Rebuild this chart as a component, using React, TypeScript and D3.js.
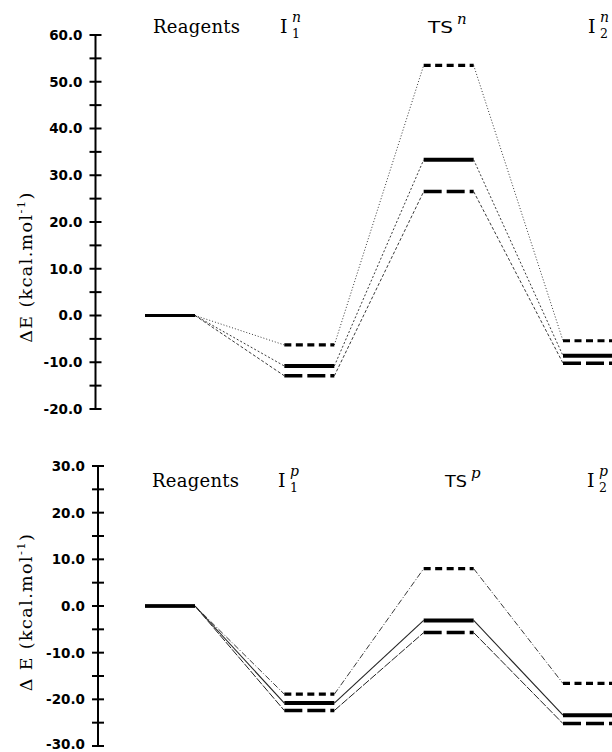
import React from "react";
import * as d3 from "d3";

// ---------- data ----------
const categories = ["Reagents", "I1", "TS", "I2"];

// upper panel (n)
const nSolid = [0, -10.8, 33.3, -8.6];
const nDashed = [0, -12.9, 26.5, -10.2];
const nDotted = [0, -6.3, 53.5, -5.4];
const nTicks = [-20, -10, 0, 10, 20, 30, 40, 50, 60];
const nTickLabels = ["-20.0", "-10.0", "0.0", "10.0", "20.0", "30.0", "40.0", "50.0", "60.0"];
const nMinorTicks = [-15, -5, 5, 15, 25, 35, 45, 55];

// lower panel (p)
const pSolid = [0, -20.8, -3.1, -23.4];
const pDashed = [0, -22.4, -5.7, -25.2];
const pDotted = [0, -18.9, 8.0, -16.6];
const pTicks = [-30, -20, -10, 0, 10, 20, 30];
const pTickLabels = ["-30.0", "-20.0", "-10.0", "0.0", "10.0", "20.0", "30.0"];
const pMinorTicks = [-25, -15, -5, 5, 15, 25];

// ---------- layout ----------
const W = 612;
const H = 752;
const HALF = 25;

function Panel(props: {
  yDomain: [number, number];
  yRange: [number, number];
  axisX: number;
  ticks: number[];
  tickLabels: string[];
  minor: number[];
  series: { values: number[]; kind: "solid" | "dashed" | "dotted" }[];
  connStyles: Record<string, string>;
  connWidth: Record<string, number>;
  sup: string;
  labelBaseline: number;
  labelX: number[];
  tsWidth: number;
  yLabelCenter: number;
  yLabelText: string;
}) {
  const x = d3.scalePoint<string>().domain(categories).range([170, 588]);
  const y = d3.scaleLinear().domain(props.yDomain).range(props.yRange);
  const levelStyle: Record<string, { dash: string; w: number }> = {
    solid: { dash: "none", w: 4 },
    dashed: { dash: "18,5", w: 3.5 },
    dotted: { dash: "7,4.5", w: 3.2 },
  };
  const lb = props.labelBaseline;
  return (
    <g>
      {/* axis */}
      <line
        x1={props.axisX}
        x2={props.axisX}
        y1={y(props.yDomain[1])}
        y2={y(props.yDomain[0])}
        stroke="#000"
        strokeWidth={2}
      />
      {props.ticks.map((t, i) => (
        <g key={"t" + t}>
          <line x1={props.axisX - 6} x2={props.axisX + 6} y1={y(t)} y2={y(t)} stroke="#000" strokeWidth={2} />
          <text
            x={props.axisX - 13}
            y={Math.min(y(t), H - 8)}
            dy="0.36em"
            textAnchor="end"
            fontFamily="DejaVu Sans"
            fontWeight="bold"
            fontSize={13.5}
          >
            {props.tickLabels[i]}
          </text>
        </g>
      ))}
      {props.minor.map((t) => (
        <line key={"m" + t} x1={props.axisX - 6} x2={props.axisX + 6} y1={y(t)} y2={y(t)} stroke="#000" strokeWidth={2} />
      ))}
      {/* y label */}
      <text
        transform={`translate(32,${props.yLabelCenter}) rotate(-90)`}
        textAnchor="middle"
        fontFamily="DejaVu Serif"
        fontSize={17.5}
        letterSpacing={1.4}
      >
        {props.yLabelText}
        <tspan fontSize={11.5} dy={-7}>-1</tspan>
        <tspan dy={7}>)</tspan>
      </text>
      {/* connectors */}
      {props.series.map((s) =>
        s.values.slice(1).map((v, i) => {
          const x1 = (x(categories[i]) as number) + HALF;
          const x2 = (x(categories[i + 1]) as number) - HALF;
          return (
            <line
              key={s.kind + "c" + i}
              x1={x1}
              x2={x2}
              y1={y(s.values[i])}
              y2={y(v)}
              stroke="#222"
              strokeWidth={props.connWidth[s.kind]}
              strokeDasharray={props.connStyles[s.kind]}
            />
          );
        })
      )}
      {/* levels */}
      {props.series.map((s) =>
        s.values.map((v, i) => {
          const cx = x(categories[i]) as number;
          const st = i === 0 ? levelStyle.solid : levelStyle[s.kind];
          return (
            <line
              key={s.kind + "l" + i}
              x1={cx - HALF}
              x2={cx + HALF}
              y1={y(v)}
              y2={y(v)}
              stroke="#000"
              strokeWidth={i === 0 ? 3.2 : st.w}
              strokeDasharray={st.dash}
            />
          );
        })
      )}
      {/* category labels */}
      <text x={props.labelX[0]} y={lb} fontFamily="DejaVu Serif" fontSize={18} textLength={87} lengthAdjust="spacing">
        Reagents
      </text>
      {[1, 3].map((i) => (
        <g key={"lab" + i}>
          <text x={props.labelX[i]} y={lb} fontFamily="DejaVu Serif" fontSize={19}>
            I
          </text>
          <text x={props.labelX[i] + 12} y={lb + 5} fontFamily="DejaVu Serif" fontSize={12.5}>
            {i === 1 ? "1" : "2"}
          </text>
          <text x={props.labelX[i] + 12} y={lb - 11} fontFamily="DejaVu Serif" fontStyle="italic" fontSize={14}>
            {props.sup}
          </text>
        </g>
      ))}
      <g>
        <text
          x={props.labelX[2]}
          y={lb}
          fontFamily="DejaVu Sans"
          fontSize={15}
          textLength={props.tsWidth}
          lengthAdjust="spacingAndGlyphs"
        >
          TS
        </text>
        <text
          x={props.labelX[2] + props.tsWidth + 4}
          y={lb - 9}
          fontFamily="DejaVu Serif"
          fontStyle="italic"
          fontSize={15}
        >
          {props.sup}
        </text>
      </g>
    </g>
  );
}

export default function App() {
  return (
    <svg width={W} height={H} style={{ position: "absolute", left: 0, top: 0, background: "#fff" }}>
      <rect width={W} height={H} fill="#fff" />
      <Panel
        yDomain={[-20, 60]}
        yRange={[409, 35]}
        axisX={95.5}
        ticks={nTicks}
        tickLabels={nTickLabels}
        minor={nMinorTicks}
        series={[
          { values: nDotted, kind: "dotted" },
          { values: nDashed, kind: "dashed" },
          { values: nSolid, kind: "solid" },
        ]}
        connStyles={{ dotted: "1,2", solid: "2,2", dashed: "3,2" }}
        connWidth={{ dotted: 0.9, solid: 0.9, dashed: 0.9 }}
        sup="n"
        labelBaseline={33}
        labelX={[153, 280, 428, 588]}
        tsWidth={25}
        yLabelCenter={267}
        yLabelText="ΔE (kcal.mol"
      />
      <Panel
        yDomain={[-30, 30]}
        yRange={[746, 466]}
        axisX={98}
        ticks={pTicks}
        tickLabels={pTickLabels}
        minor={pMinorTicks}
        series={[
          { values: pDotted, kind: "dotted" },
          { values: pDashed, kind: "dashed" },
          { values: pSolid, kind: "solid" },
        ]}
        connStyles={{ dotted: "6,2,1,2", solid: "none", dashed: "8,1.5" }}
        connWidth={{ dotted: 0.9, solid: 1.1, dashed: 1 }}
        sup="p"
        labelBaseline={487}
        labelX={[152, 278, 445, 587]}
        tsWidth={22}
        yLabelCenter={612}
        yLabelText="Δ E (kcal.mol"
      />
    </svg>
  );
}
